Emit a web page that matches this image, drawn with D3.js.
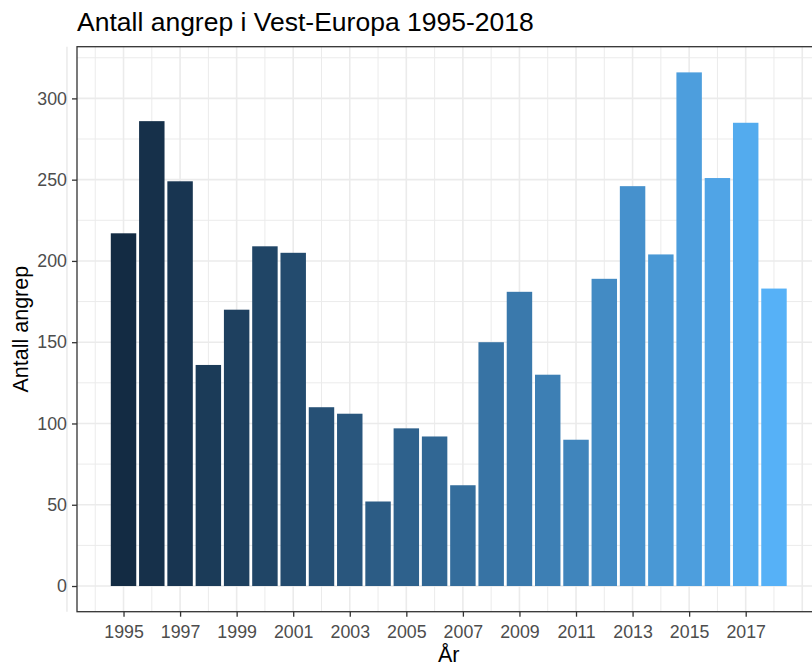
<!DOCTYPE html>
<html>
<head>
<meta charset="utf-8">
<script src="https://cdn.jsdelivr.net/npm/d3@7"></script>
<style>
  body { margin: 0; background: #fff; }
  svg { display: block; font-family: "Liberation Sans", Arial, sans-serif; }
</style>
</head>
<body>
<svg id="chart" width="812" height="666"></svg>
<script>
const years = [1995, 1996, 1997, 1998, 1999, 2000, 2001, 2002, 2003, 2004, 2005, 2006,
               2007, 2008, 2009, 2010, 2011, 2012, 2013, 2014, 2015, 2016, 2017, 2018];
const attacks = [217, 286, 249, 136, 170, 209, 205, 110, 106, 52, 97, 92,
                 62, 150, 181, 130, 90, 189, 246, 204, 316, 251, 285, 183];
const xTicks = [1995, 1997, 1999, 2001, 2003, 2005, 2007, 2009, 2011, 2013, 2015, 2017];
const yTicks = [0, 50, 100, 150, 200, 250, 300];

const data = years.map((y, i) => ({year: y, value: attacks[i]}));

const svg = d3.select("#chart");
const panel = {left: 77, right: 820.5, top: 46.7, bottom: 611.7};

// ggplot-like 5% expansion
const xLo = d3.min(years) - 0.45, xHi = d3.max(years) + 0.45;
const xPad = (xHi - xLo) * 0.05;
const xScale = d3.scaleLinear().domain([xLo - xPad, xHi + xPad]).range([panel.left, panel.right]);
const yMax = d3.max(attacks);
const yScale = d3.scaleLinear().domain([-yMax * 0.05, yMax * 1.05]).range([panel.bottom, panel.top]);
const color = d3.scaleLinear().domain([d3.min(years), d3.max(years)])
    .range(["#132B43", "#56B1F7"]).interpolate(d3.interpolateLab);

const pw = xScale(1) - xScale(0);

// grid
const grid = svg.append("g");
const yMinor = d3.range(25, 335, 50);
grid.selectAll(".ymin").data(yMinor).enter().append("line")
    .attr("x1", panel.left).attr("x2", panel.right)
    .attr("y1", d => yScale(d)).attr("y2", d => yScale(d))
    .attr("stroke", "#ebebeb").attr("stroke-width", 1);
const xMinor = d3.range(1994, 2020, 2);
grid.selectAll(".xmin").data(xMinor).enter().append("line")
    .attr("y1", panel.top).attr("y2", panel.bottom)
    .attr("x1", d => xScale(d)).attr("x2", d => xScale(d))
    .attr("stroke", "#ebebeb").attr("stroke-width", 1);
grid.selectAll(".ymaj").data(yTicks).enter().append("line")
    .attr("x1", panel.left).attr("x2", panel.right)
    .attr("y1", d => yScale(d)).attr("y2", d => yScale(d))
    .attr("stroke", "#ebebeb").attr("stroke-width", 1.6);
grid.selectAll(".xmaj").data([1993].concat(xTicks, [2019])).enter().append("line")
    .attr("y1", panel.top).attr("y2", panel.bottom)
    .attr("x1", d => xScale(d)).attr("x2", d => xScale(d))
    .attr("stroke", "#ebebeb").attr("stroke-width", 1.6);

// bars
svg.append("g").selectAll("rect").data(data).enter().append("rect")
    .attr("x", d => xScale(d.year - 0.45))
    .attr("width", pw * 0.9)
    .attr("y", d => yScale(d.value))
    .attr("height", d => yScale(0) - yScale(d.value))
    .attr("fill", d => color(d.year));

// panel border
svg.append("rect")
    .attr("x", panel.left).attr("y", panel.top)
    .attr("width", panel.right - panel.left).attr("height", panel.bottom - panel.top)
    .attr("fill", "none").attr("stroke", "#333333").attr("stroke-width", 1.3);

// axes
const xAxis = svg.append("g")
    .attr("transform", "translate(0," + panel.bottom + ")")
    .call(d3.axisBottom(xScale).tickValues(xTicks).tickFormat(d3.format("d")).tickSize(5).tickSizeOuter(0));
const yAxis = svg.append("g")
    .attr("transform", "translate(" + panel.left + ",0)")
    .call(d3.axisLeft(yScale).tickValues(yTicks).tickSize(5).tickSizeOuter(0));
[xAxis, yAxis].forEach(a => {
    a.select(".domain").remove();
    a.selectAll(".tick line").attr("stroke", "#333333").attr("stroke-width", 1.3);
    a.selectAll(".tick text").attr("fill", "#4d4d4d")
        .style("font-size", "17.8px").style("font-family", "Liberation Sans, Arial, sans-serif");
});
xAxis.selectAll(".tick text").attr("dy", "0.71em").attr("y", 14);
yAxis.selectAll(".tick text").attr("x", -10);

// titles
svg.append("text")
    .attr("x", panel.left).attr("y", 31)
    .style("font-size", "26.5px").attr("fill", "#000")
    .text("Antall angrep i Vest-Europa 1995-2018");
svg.append("text")
    .attr("x", (panel.left + panel.right) / 2).attr("y", 662)
    .attr("text-anchor", "middle").style("font-size", "21.5px").attr("fill", "#000")
    .text("År");
svg.append("text")
    .attr("transform", "translate(28," + (panel.top + panel.bottom) / 2 + ") rotate(-90)")
    .attr("text-anchor", "middle").style("font-size", "21.5px").attr("fill", "#000")
    .text("Antall angrep");
</script>
</body>
</html>
